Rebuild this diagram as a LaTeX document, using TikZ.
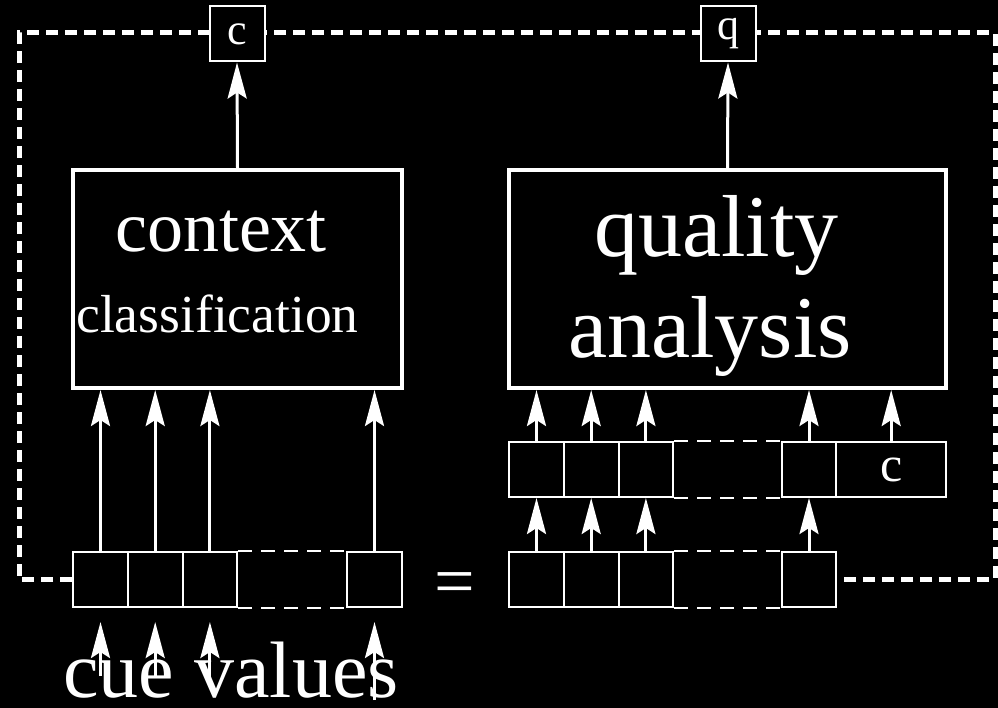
\documentclass[tikz,border=0pt]{standalone}
\usepackage{fontspec}
\setmainfont{Liberation Serif}
\usetikzlibrary{arrows.meta}
\newcommand{\fs}[1]{\fontsize{#1}{#1}\selectfont}
\begin{document}
\begin{tikzpicture}[x=1pt,y=-1pt,
  bigbox/.style={draw=white, line width=4pt, fill=black, inner sep=0pt,
    minimum height=218pt},
  cell/.style={draw=white, line width=2pt, fill=black, inner sep=0pt,
    minimum width=54.7pt, minimum height=55pt, text=white},
  outbox/.style={draw=white, line width=2pt, fill=black, inner sep=0pt,
    minimum width=55pt, minimum height=55pt, text=white, font=\fs{44}},
  gapline/.style={draw=white, line width=2pt, dash pattern=on 14pt off 9pt},
  frame/.style={draw=white, line width=5pt, dash pattern=on 12pt off 7pt},
  arr/.style={draw=white, line width=3pt,
    -{Stealth[length=36pt,width=19pt,inset=6pt]}},
  label/.style={text=white, inner sep=0pt, anchor=base}]

\fill[black] (0,0) rectangle (998,708);
\useasboundingbox (0,0) rectangle (998,708);

% cue vector (left) and its copy (right, lower row)
\node[cell] (L1) at (100.5,579.5) {};
\node[cell] (L2) at (155.2,579.5) {};
\node[cell] (L3) at (209.9,579.5) {};
\node[cell] (L4) at (374.5,579.5) {};
\node[cell] (R1) at (536.5,579.5) {};
\node[cell] (R2) at (591.2,579.5) {};
\node[cell] (R3) at (645.9,579.5) {};
\node[cell] (R4) at (809.0,579.5) {};

% feedback loop of the outputs
\coordinate (tl) at (19,33);
\coordinate (tr) at (995,33);
\draw[frame] (L1.west) -| (tl) -- (tr) |- (R4.east);

% upper row: cues extended with the context
\node[cell] (U1) at (536.5,469.5) {};
\node[cell] (U2) at (591.2,469.5) {};
\node[cell] (U3) at (645.9,469.5) {};
\node[cell] (U4) at (809.0,469.5) {};
\node[cell, minimum width=109.5pt, font=\fs{50}] (U5) at (891.2,469.5) {c};

% elided cells
\draw[gapline] (L3.north east) -- (L4.north west);
\draw[gapline] (L3.south east) -- (L4.south west);
\draw[gapline] (R3.north east) -- (R4.north west);
\draw[gapline] (R3.south east) -- (R4.south west);
\draw[gapline] (U3.north east) -- (U4.north west);
\draw[gapline] (U3.south east) -- (U4.south west);

% processing blocks
\node[bigbox, minimum width=329pt] (ctx) at (237.5,279) {};
\node[bigbox, minimum width=437pt] (qa) at (727.5,279) {};

% outputs
\node[outbox] (cout) at (237,34) {c};
\node[outbox] (qout) at (728,34) {q};

% block texts
\node[label, font=\fs{72}] (t1) at (221,252) {context};
\node[label, font=\fs{53.5}] (t2) at (217.5,333) {classification};
\node[label, font=\fs{88}] (t3) at (716.5,257) {quality};
\node[label, font=\fs{88}] (t4) at (710,357) {analysis};
\node[label, font=\fs{80}] (t5) at (231,697) {cue values};
\node[label, font=\fs{72}] (eq) at (455,605) {=};

% connections
\draw[arr] (ctx.north) -- (cout.south);
\draw[arr] (qa.north) -- (qout.south);
\foreach \c in {L1,L2,L3,L4}
  \draw[arr] (\c.north) -- (\c.north |- ctx.south);
\foreach \c in {U1,U2,U3,U4,U5}
  \draw[arr] (\c.north) -- (\c.north |- qa.south);
\foreach \r/\u in {R1/U1,R2/U2,R3/U3,R4/U4}
  \draw[arr] (\r.north) -- (\u.south);

% incoming cue values
\coordinate (s1) at (100.5,676); \coordinate (e1) at (100.5,622);
\coordinate (s2) at (155.2,676); \coordinate (e2) at (155.2,622);
\coordinate (s3) at (209.9,677); \coordinate (e3) at (209.9,622);
\coordinate (s4) at (374.5,700); \coordinate (e4) at (374.5,622);
\foreach \i in {1,2,3,4}
  \draw[arr] (s\i) -- (e\i);
\end{tikzpicture}
\end{document}
